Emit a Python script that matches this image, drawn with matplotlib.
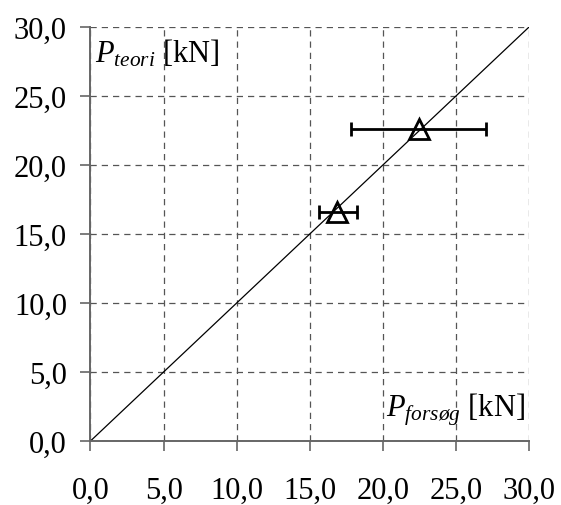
import matplotlib
matplotlib.use("Agg")
import matplotlib.pyplot as plt

# data
p_forsog = [16.9, 22.5]
p_teori = [16.6, 22.6]
x_lo = [15.65, 17.85]
x_hi = [18.25, 27.05]
ticks = [0, 5, 10, 15, 20, 25, 30]
tick_labels = ["0,0", "5,0", "10,0", "15,0", "20,0", "25,0", "30,0"]

plt.rcParams['font.family'] = 'Liberation Serif'
plt.rcParams['mathtext.fontset'] = 'custom'
plt.rcParams['mathtext.rm'] = 'Liberation Serif'
plt.rcParams['mathtext.it'] = 'Liberation Serif:italic'

fig = plt.figure(figsize=(5.61, 5.06), dpi=100)
ax = fig.add_axes([0.1613, 0.1265, 0.7816, 0.818])

# 1:1 line
ax.plot([0, 30], [0, 30], color='black', lw=0.9, zorder=2)

xerr = [[p - lo for p, lo in zip(p_forsog, x_lo)],
        [hi - p for p, hi in zip(p_forsog, x_hi)]]
ax.errorbar(p_forsog, p_teori, xerr=xerr, fmt='^', ms=14, mfc='none',
            mec='black', mew=2, ecolor='black', elinewidth=2, capsize=5,
            capthick=2, zorder=3)

ax.set_xlim(0, 30)
ax.set_ylim(0, 30)
ax.set_xticks(ticks)
ax.set_xticklabels(tick_labels)
ax.set_yticks(ticks)
ax.set_yticklabels(tick_labels)
ax.tick_params(labelsize=22, direction='out', length=7, width=1.2, color='#666666')
ax.tick_params(axis='x', pad=18)
ax.tick_params(axis='y', pad=10)

ax.grid(True, color='#555555', linestyle=(0, (5, 4)), lw=0.9)
for s in ['top', 'right']:
    ax.spines[s].set_visible(False)
for s in ['left', 'bottom']:
    ax.spines[s].set_color('#666666')
    ax.spines[s].set_linewidth(1.4)

ax.text(0.01, 0.975, r'$P_{teori}$ [kN]', transform=ax.transAxes,
        fontsize=22, va='top', ha='left')
ax.text(0.99, 0.035, r'$P_{forsøg}$ [kN]', transform=ax.transAxes,
        fontsize=22, va='bottom', ha='right')

fig.savefig('out.png', dpi=100)
